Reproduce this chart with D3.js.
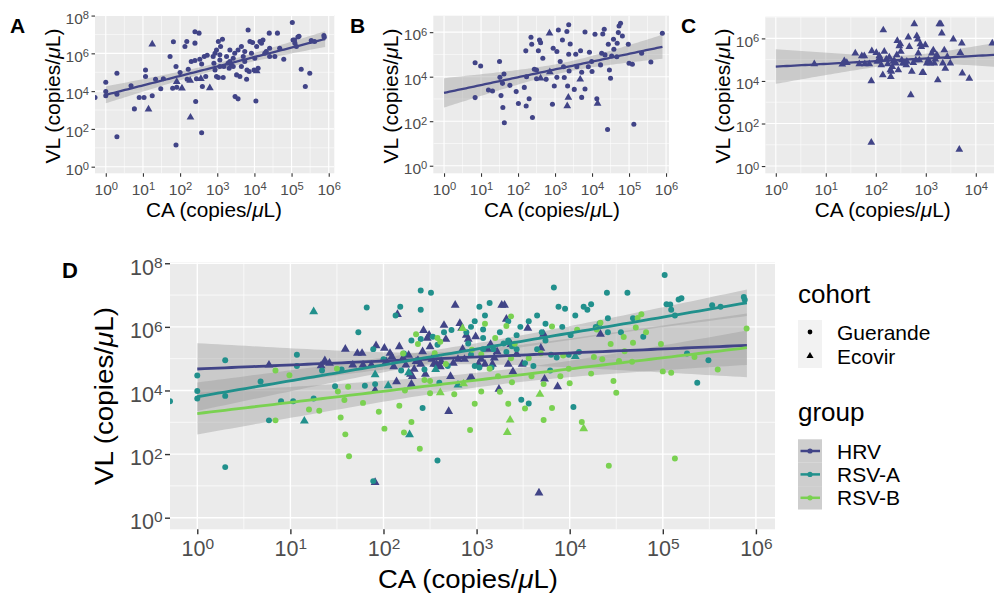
<!DOCTYPE html>
<html>
<head>
<meta charset="utf-8">
<script src="https://cdn.jsdelivr.net/npm/d3@7"></script>
<style>
  body { margin: 0; background: #fff; }
  text { font-family: "Liberation Sans", Arial, Helvetica, sans-serif; }
</style>
</head>
<body>
<div id="chart"></div>
<script>
// all values are log10(copies/uL); -Infinity means CA = 0 (drawn on the panel edge)
// RSV-A (panel A), Guerande cohort
var rsvA_ca = [5.02,2.4,2.51,3.83,4.4,4.62,5.87,3.14,3.88,3.95,4.15,4.23,4.19,5.17,5.04,5.09,5.13,5.53,5.62,1.82,
  2.18,2.4,2.13,3.03,3.09,2.98,3.65,3.74,3.7,4.32,4.41,4.28,4.68,4.55,4.79,1.73,2.65,2.73,2.53,2.3,
  2.4,2.58,3.07,2.94,2.91,3.25,3.34,3.43,3.38,1.89,1.07,2.22,3.61,3.8,3.86,3.99,4.1,5.26,5.49,0.3,
  2.0,3.03,3.16,2.98,3.79,3.52,0,1.34,1.55,1.07,2.19,2.44,2.69,0.68,1.8,1.91,2.6,5.37,1.48,0,
  0.3,1.25,0.9,1.03,3.48,3.56,-Infinity,2.42,4.04,0.77,2.58,0.3,1.89,2.89,3.18,3.29,3.47,3.56,3.34,3.07,
  3.74,4.01,3.92,4.06,4.41,2.94,3.07,3.32,3.43,3.65,0,5.2,5.88,5.08];
var rsvA_vl = [7.63,7.14,7.07,7.24,7.07,7.07,6.94,6.75,6.63,6.57,6.63,6.71,6.54,6.86,6.71,6.54,6.36,6.68,6.63,6.61,
  6.63,6.54,6.36,6.63,6.36,6.18,6.36,6.1,5.83,6.1,6.27,6.0,6.27,5.83,5.69,5.83,5.83,5.9,5.69,5.57,
  5.62,5.44,5.65,5.12,5.48,5.83,5.57,5.74,5.39,5.3,5.12,5.16,4.77,5.12,5.04,5.12,5.21,5.16,4.95,4.95,
  4.98,4.72,4.72,4.77,4.63,4.86,4.47,4.63,4.66,4.77,4.63,4.66,4.77,4.28,4.15,4.2,4.24,4.24,4.13,3.98,
  3.83,3.75,3.66,3.66,3.71,3.59,3.66,3.45,3.48,3.06,1.8,1.59,1.15,5.83,5.3,5.48,6.0,6.18,6.18,5.92,
  5.57,5.74,6.0,6.36,5.83,6.0,5.3,5.21,5.3,5.3,3.75,6.9,6.85,6.7];
// RSV-A, Ecovir cohort
var rsvA_ecoCa = [1.25,1.15,1.91,2.05,2.27,2.28,2.56,2.8,4.06];
var rsvA_ecoVl = [6.48,3.04,4.5,4.15,4.56,2.61,4.66,4.17,5.07];

// RSV-B (panel B), Guerande cohort
var rsvB_ca = [0.84,0.84,0.99,1.2,1.31,1.5,1.51,1.54,1.58,1.59,1.62,1.63,1.78,1.95,2.01,2.17,2.21,2.22,2.23,2.3,
  2.35,2.37,2.39,2.44,2.5,2.55,2.58,2.61,2.67,2.76,2.93,2.95,2.98,3.05,3.09,3.14,3.2,3.25,3.32,3.34,
  3.37,3.37,3.38,3.41,3.52,3.56,3.59,3.69,3.72,3.72,3.81,3.81,3.9,3.93,3.99,4.0,4.08,4.13,4.23,4.26,
  4.29,4.33,4.35,4.42,4.44,4.47,4.5,4.53,4.58,4.59,4.67,4.68,4.71,4.73,4.77,4.82,4.98,5.0,5.09,5.13,
  5.34,5.59,5.9,3.05,3.23,2.5];
var rsvB_vl = [4.63,3.06,4.48,3.4,3.36,4.68,3.97,3.15,3.7,2.62,4.12,1.93,3.61,3.33,2.8,3.52,5.16,2.68,4.0,3.01,
  5.77,5.46,2.17,4.33,3.91,5.17,5.65,5.53,4.83,3.88,2.76,5.28,3.58,3.97,6.1,4.68,5.65,3.96,6.03,3.58,
  6.33,5.01,4.26,5.47,3.43,5.01,4.45,5.17,4.2,3.07,6.01,3.45,4.45,5.1,4.68,4.23,5.91,3.01,4.53,5.05,
  5.92,6.13,4.98,1.63,5.46,4.3,3.93,4.93,5.68,5.23,4.9,5.5,5.98,6.28,6.4,5.83,5.46,4.6,4.56,1.86,
  5.05,4.66,5.95,5.13,4.45,4.3];
// RSV-B, Ecovir cohort
var rsvB_ecoCa = [2.85,3.36,3.33,3.68,4.15,2.61,2.86];
var rsvB_ecoVl = [5.95,3.07,2.68,3.88,2.8,3.93,4.21];

// HRV (panel C), Ecovir cohort only
var hrv_ecoCa = [0.77,1.33,1.37,1.42,1.59,1.67,1.72,1.77,1.78,1.87,1.92,1.91,1.91,2.01,2.03,2.07,2.09,2.11,2.14,2.15,
  2.17,2.21,2.24,2.27,2.29,2.31,2.3,2.33,2.35,2.37,2.4,2.42,2.43,2.45,2.47,2.49,2.5,2.52,2.54,2.57,
  2.61,2.62,2.65,2.67,2.7,2.72,2.75,2.77,2.8,2.82,2.84,2.85,2.87,2.89,2.91,2.93,2.95,2.99,3.02,3.05,
  3.09,3.12,3.15,3.17,3.19,3.22,3.24,3.27,3.3,3.32,3.34,3.37,3.39,3.43,3.49,3.55,3.67,3.69,3.72,3.73,
  3.87,4.33];
var hrv_ecoVl = [4.8,4.78,4.94,4.86,5.3,4.8,5.17,5.17,4.8,4.8,5.41,4.0,1.11,5.33,4.91,5.17,5.06,4.75,4.28,6.39,
  5.38,5.02,4.8,5.11,4.51,4.44,4.2,4.67,4.91,4.95,4.83,5.22,5.89,4.51,5.64,5.74,5.38,4.98,4.83,4.83,
  4.75,4.91,6.05,5.61,3.34,4.44,4.86,6.68,4.98,6.11,5.96,5.3,4.98,5.74,5.61,4.39,4.39,5.69,4.83,4.98,
  4.83,5.3,5.45,4.83,5.02,5.22,4.04,6.68,6.68,6.24,4.83,5.45,4.59,5.14,4.83,5.96,0.78,5.33,5.77,4.36,
  4.12,5.77];

var groups = ["HRV", "RSV-A", "RSV-B"];
var groupColors = ["#414487", "#21908C", "#7AD151"];
var cohorts = ["Guerande", "Ecovir"];
var fitCA = [1, 8e5];   // span of the fitted lines
var xTicks = [1, 1e1, 1e2, 1e3, 1e4, 1e5, 1e6];
var yTicksA = [1, 1e2, 1e4, 1e6, 1e8];
var yTicksB = [1, 1e2, 1e4, 1e6];

// build point records
function pts(ca, vl, group, cohort) {
  return ca.map(function(c, i) { return {ca: c, vl: vl[i], group: group, cohort: cohort}; });
}
var dataA = pts(rsvA_ca, rsvA_vl, "RSV-A", "Guerande").concat(pts(rsvA_ecoCa, rsvA_ecoVl, "RSV-A", "Ecovir"));
var dataB = pts(rsvB_ca, rsvB_vl, "RSV-B", "Guerande").concat(pts(rsvB_ecoCa, rsvB_ecoVl, "RSV-B", "Ecovir"));
var dataC = pts(hrv_ecoCa, hrv_ecoVl, "HRV", "Ecovir");

// linear fit on log-log values with 95% confidence band (like geom_smooth(method = "lm"))
function fit(data) {
  var p = data.filter(function(d) { return isFinite(d.ca); });
  var n = p.length;
  var mx = d3.mean(p, d => d.ca), my = d3.mean(p, d => d.vl);
  var sxx = d3.sum(p, d => (d.ca - mx) * (d.ca - mx));
  var sxy = d3.sum(p, d => (d.ca - mx) * (d.vl - my));
  var b = sxy / sxx, a = my - b * mx;
  var s = Math.sqrt(d3.sum(p, d => Math.pow(d.vl - a - b * d.ca, 2)) / (n - 2));
  var t = 1.96 + 2.4 / (n - 2);
  var lo = Math.log10(fitCA[0]), hi = Math.log10(fitCA[1]);
  return d3.range(81).map(function(i) {
    var x = lo + (hi - lo) * i / 80;
    var se = s * Math.sqrt(1 / n + (x - mx) * (x - mx) / sxx);
    var y = a + b * x;
    return {x: x, y: y, lo: y - t * se, hi: y + t * se};
  });
}

var W = 994, H = 595;
var svg = d3.select("#chart").append("svg").attr("width", W).attr("height", H);

// "... (copies/µL)" with an italic mu
function unitTitle(sel, prefix) {
  sel.append("tspan").text(prefix + " (copies/");
  sel.append("tspan").attr("font-style", "italic").text("μ");
  sel.append("tspan").text("L)");
}

function drawPanel(cfg) {
  var x = d3.scaleLog().domain([Math.pow(10, cfg.xd[0]), Math.pow(10, cfg.xd[1])]).range([cfg.x0, cfg.x1]);
  var y = d3.scaleLog().domain([Math.pow(10, cfg.yd[0]), Math.pow(10, cfg.yd[1])]).range([cfg.y1, cfg.y0]);
  var g = svg.append("g");
  var clipId = "clip" + cfg.id;
  g.append("clipPath").attr("id", clipId).append("rect")
    .attr("x", cfg.x0).attr("y", cfg.y0).attr("width", cfg.x1 - cfg.x0).attr("height", cfg.y1 - cfg.y0);

  g.append("rect").attr("x", cfg.x0).attr("y", cfg.y0)
    .attr("width", cfg.x1 - cfg.x0).attr("height", cfg.y1 - cfg.y0).attr("fill", "#EBEBEB");

  var grid = g.append("g").attr("clip-path", "url(#" + clipId + ")");
  // minor grid: half decades on x, odd decades on y
  d3.range(Math.floor(cfg.xd[0]), Math.ceil(cfg.xd[1]) + 1).forEach(function(k) {
    var v = Math.pow(10, k + 0.5);
    grid.append("line").attr("x1", x(v)).attr("x2", x(v)).attr("y1", cfg.y0).attr("y2", cfg.y1)
      .attr("stroke", "#fff").attr("stroke-width", cfg.minorW);
  });
  d3.range(-1, Math.ceil(cfg.yd[1]) + 1, 2).forEach(function(k) {
    var v = Math.pow(10, k);
    grid.append("line").attr("y1", y(v)).attr("y2", y(v)).attr("x1", cfg.x0).attr("x2", cfg.x1)
      .attr("stroke", "#fff").attr("stroke-width", cfg.minorW);
  });
  // major grid
  xTicks.forEach(function(v) {
    grid.append("line").attr("x1", x(v)).attr("x2", x(v)).attr("y1", cfg.y0).attr("y2", cfg.y1)
      .attr("stroke", "#fff").attr("stroke-width", cfg.majorW);
  });
  cfg.yTicks.forEach(function(v) {
    grid.append("line").attr("y1", y(v)).attr("y2", y(v)).attr("x1", cfg.x0).attr("x2", cfg.x1)
      .attr("stroke", "#fff").attr("stroke-width", cfg.majorW);
  });

  var plot = g.append("g").attr("clip-path", "url(#" + clipId + ")");
  var fits = cfg.series.map(function(s) { return fit(s.data); });

  // confidence bands
  var area = d3.area()
    .x(d => x(Math.pow(10, d.x)))
    .y0(d => y(Math.pow(10, d.lo)))
    .y1(d => y(Math.pow(10, d.hi)));
  fits.forEach(function(f) {
    plot.append("path").datum(f).attr("d", area).attr("fill", "#999999").attr("fill-opacity", 0.4);
  });

  // points
  var circ = d3.symbol().type(d3.symbolCircle).size(cfg.circleSize);
  var tri = d3.symbol().type(d3.symbolTriangle).size(cfg.triSize);
  cfg.series.forEach(function(s) {
    plot.append("g").selectAll("path").data(s.data).join("path")
      .attr("d", d => d.cohort === "Ecovir" ? tri() : circ())
      .attr("transform", function(d) {
        var px = isFinite(d.ca) ? x(Math.pow(10, d.ca)) : cfg.x0;
        return "translate(" + px + "," + y(Math.pow(10, d.vl)) + ")";
      })
      .attr("fill", s.color);
  });

  // fitted lines
  var line = d3.line().x(d => x(Math.pow(10, d.x))).y(d => y(Math.pow(10, d.y)));
  fits.forEach(function(f, i) {
    plot.append("path").datum(f).attr("d", line).attr("fill", "none")
      .attr("stroke", cfg.series[i].color).attr("stroke-width", cfg.lineW);
  });

  // axes
  function styleAxis(ax, fs) {
    ax.select(".domain").remove();
    ax.selectAll(".tick line").attr("stroke", "#333").attr("stroke-width", cfg.majorW);
    ax.selectAll(".tick text").attr("fill", "#4D4D4D").attr("font-size", fs)
      .style("font-family", '"Liberation Sans", Arial, sans-serif')
      .each(function(d) {
        var t = d3.select(this).text("10");
        t.append("tspan").attr("dy", "-0.42em").attr("font-size", "72%").text(Math.round(Math.log10(d)));
      });
  }
  var shownX = xTicks.filter(function(v) { return x(v) < W - 12; });
  var xa = g.append("g").attr("transform", "translate(0," + cfg.y1 + ")")
    .call(d3.axisBottom(x).tickValues(shownX).tickSize(cfg.tick).tickPadding(cfg.xPad));
  styleAxis(xa, cfg.tickFs);
  var ya = g.append("g").attr("transform", "translate(" + cfg.x0 + ",0)")
    .call(d3.axisLeft(y).tickValues(cfg.yTicks).tickSize(cfg.tick).tickPadding(cfg.yPad));
  styleAxis(ya, cfg.tickFs);
  ya.selectAll(".tick text").attr("dy", "0.5em");

  // axis titles
  g.append("text").attr("x", cfg.xTitle[0]).attr("y", cfg.xTitle[1]).attr("text-anchor", "middle")
    .attr("font-size", cfg.titleFs).attr("textLength", cfg.xTitleLen).attr("lengthAdjust", "spacingAndGlyphs")
    .call(unitTitle, "CA");
  g.append("text").attr("transform", "translate(" + cfg.yTitle[0] + "," + cfg.yTitle[1] + ") rotate(-90)")
    .attr("text-anchor", "middle").attr("font-size", cfg.titleFs)
    .attr("textLength", cfg.yTitleLen).attr("lengthAdjust", "spacingAndGlyphs")
    .call(unitTitle, "VL");

  // panel letter
  svg.append("text").attr("x", cfg.letter[0]).attr("y", cfg.letter[1]).attr("font-weight", "bold")
    .attr("font-size", cfg.letterFs).text(cfg.id);
}

var small = {minorW: 0.55, majorW: 1.1, circleSize: 20, triSize: 26, lineW: 2.3, tick: 3.5,
  xPad: 7, yPad: 2.5, tickFs: 15.5, titleFs: 21, xTitleLen: 136, yTitleLen: 135, yTicks: yTicksA, letterFs: 21};

drawPanel(Object.assign({}, small, {id: "A", x0: 95, x1: 334.3, y0: 15, y1: 173.3, xd: [-0.29, 6.15], yd: [-0.35, 8.03],
  xTitle: [214, 217], yTitle: [59.5, 96], letter: [10, 33],
  series: [{data: dataA, color: groupColors[0]}]}));
drawPanel(Object.assign({}, small, {id: "B", x0: 433.3, x1: 669, y0: 15.7, y1: 173.3, xd: [-0.29, 6.08], yd: [-0.34, 6.74],
  yTicks: yTicksB, xTitle: [552, 217], yTitle: [398, 96], letter: [350, 33],
  series: [{data: dataB, color: groupColors[0]}]}));
drawPanel(Object.assign({}, small, {id: "C", x0: 765.3, x1: 1083.3, y0: 16.7, y1: 173.3, xd: [-0.21, 6.15], yd: [-0.34, 7.02],
  yTicks: yTicksB, xTitle: [882.7, 217], yTitle: [730, 96], letter: [681, 33],
  series: [{data: dataC, color: groupColors[0]}]}));
drawPanel({id: "D", x0: 170, x1: 775, y0: 262.3, y1: 529.3, xd: [-0.293, 6.205], yd: [-0.365, 8.03],
  minorW: 0.7, majorW: 1.4, circleSize: 28, triSize: 34, lineW: 2.8, tick: 5, xPad: 6, yPad: 2.5,
  tickFs: 21.5, titleFs: 26, xTitleLen: 180, yTitleLen: 178, yTicks: yTicksA,
  xTitle: [468, 588], yTitle: [113, 396], letter: [62, 278], letterFs: 22,
  series: [{data: dataC, color: groupColors[0]}, {data: dataA, color: groupColors[1]}, {data: dataB, color: groupColors[2]}]});

// legend
var lg = svg.append("g");
lg.append("text").attr("x", 798).attr("y", 303).attr("font-size", 26).text("cohort");
cohorts.forEach(function(c, i) {
  var cy = 332 + i * 24;
  lg.append("rect").attr("x", 798).attr("y", cy - 12).attr("width", 24).attr("height", 24).attr("fill", "#F2F2F2");
  lg.append("path").attr("d", d3.symbol().type(i === 0 ? d3.symbolCircle : d3.symbolTriangle).size(i === 0 ? 18 : 22)())
    .attr("transform", "translate(810," + cy + ")").attr("fill", "#000");
  lg.append("text").attr("x", 837).attr("y", cy + 8).attr("font-size", 21).text(c);
});
lg.append("text").attr("x", 798).attr("y", 421).attr("font-size", 26).text("group");
groups.forEach(function(gname, i) {
  var cy = 451 + i * 23.4;
  lg.append("rect").attr("x", 798).attr("y", cy - 11.7).attr("width", 24).attr("height", 23.4).attr("fill", "#CECECE");
  lg.append("line").attr("x1", 800.5).attr("x2", 820).attr("y1", cy).attr("y2", cy)
    .attr("stroke", groupColors[i]).attr("stroke-width", 2.5);
  lg.append("circle").attr("cx", 810).attr("cy", cy).attr("r", 2.6).attr("fill", groupColors[i]);
  lg.append("text").attr("x", 837).attr("y", cy + 7.5).attr("font-size", 21).text(gname);
});
</script>
</body>
</html>
